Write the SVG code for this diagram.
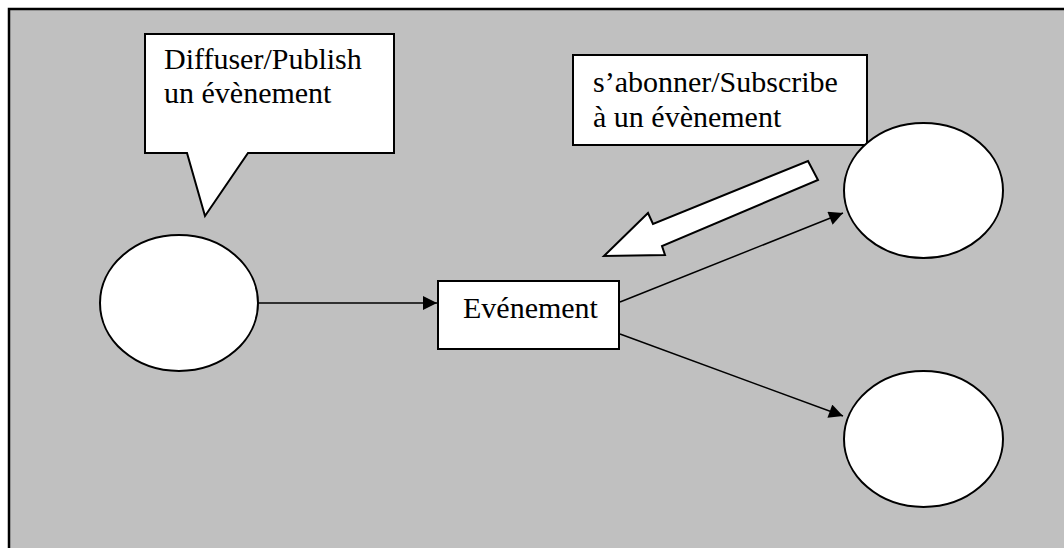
<svg xmlns="http://www.w3.org/2000/svg" width="1064" height="548" viewBox="0 0 1064 548">
  <style>
    .shape { fill: #ffffff; stroke: #000000; stroke-width: 2; }
    .link { fill: none; stroke: #000000; stroke-width: 1.5; }
    .label { font-family: "Liberation Serif", "Times New Roman", serif; font-size: 30px; fill: #000000; }
  </style>
  <defs>
    <marker id="arrow" viewBox="0 0 10 10" refX="10" refY="5" markerWidth="15" markerHeight="14" markerUnits="userSpaceOnUse" orient="auto">
      <path d="M0,0 L10,5 L0,10 Z" fill="#000000"/>
    </marker>
  </defs>

  <!-- page background and frame -->
  <rect x="0" y="0" width="1064" height="548" fill="#ffffff"/>
  <rect x="9" y="9" width="1070" height="560" fill="#c0c0c0" stroke="#000000" stroke-width="2.5"/>

  <!-- connectors -->
  <g id="connectors">
    <line class="link" x1="258" y1="303" x2="437" y2="303" marker-end="url(#arrow)"/>
    <line class="link" x1="620" y1="302" x2="843" y2="213" marker-end="url(#arrow)"/>
    <line class="link" x1="620" y1="334" x2="843" y2="416" marker-end="url(#arrow)"/>
  </g>

  <!-- publisher callout -->
  <g id="publish-callout">
    <path class="shape" d="M145,34 L394,34 L394,153 L248,153 L205,216 L187,153 L145,153 Z"/>
    <text class="label" x="164" y="69">Diffuser/Publish</text>
    <text class="label" x="164" y="103">un évènement</text>
  </g>

  <!-- subscribe note -->
  <g id="subscribe-note">
    <rect class="shape" x="573" y="55" width="294" height="90"/>
    <text class="label" x="593" y="92">s’abonner/Subscribe</text>
    <text class="label" x="593" y="127">à un évènement</text>
  </g>

  <!-- subscribe block arrow -->
  <g id="subscribe-arrow">
    <polygon class="shape" stroke-width="1.5" points="604,256 648,213 653,224 808,161 818,180 662,246 665,255"/>
  </g>

  <!-- publisher -->
  <g id="publisher">
    <ellipse class="shape" cx="179" cy="303" rx="79" ry="68"/>
  </g>

  <!-- event -->
  <g id="event">
    <rect class="shape" x="438" y="281" width="181" height="68"/>
    <text class="label" x="463" y="318">Evénement</text>
  </g>

  <!-- subscribers -->
  <g id="subscriber-1">
    <ellipse class="shape" cx="923.5" cy="190.5" rx="79.5" ry="67.5"/>
  </g>
  <g id="subscriber-2">
    <ellipse class="shape" cx="923.5" cy="439" rx="79.5" ry="68"/>
  </g>
</svg>
